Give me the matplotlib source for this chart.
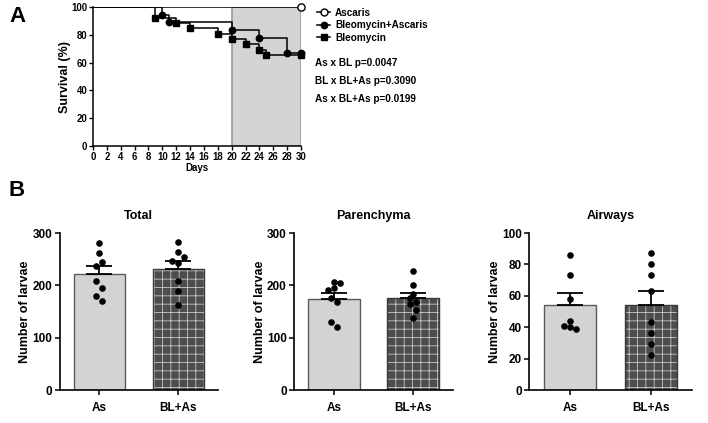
import matplotlib
matplotlib.use("Agg")
import matplotlib.pyplot as plt
import numpy as np

plt.rcParams['font.family'] = ['Liberation Sans', 'DejaVu Sans']
plt.rcParams['font.weight'] = 'bold'
plt.rcParams['axes.labelweight'] = 'bold'
plt.rcParams['axes.titleweight'] = 'bold'
plt.rcParams['hatch.linewidth'] = 0.6

# ---------------- Data ----------------
# Panel A: Kaplan-Meier survival
asc_days = [0, 30]
asc_surv = [100, 100]
bla_days = [0, 10, 11, 20, 24, 28, 30]
bla_surv = [100, 94.4, 88.9, 83.3, 77.8, 66.7, 66.7]
bl_days = [0, 9, 12, 14, 18, 20, 22, 24, 25, 30]
bl_surv = [100, 92.3, 88.5, 84.6, 80.8, 76.9, 73.1, 69.2, 65.4, 65.4]
pvalue_texts = ["As x BL p=0.0047", "BL x BL+As p=0.3090", "As x BL+As p=0.0199"]
legend_labels = ["Ascaris", "Bleomycin+Ascaris", "Bleomycin"]

# Panel B: number of larvae
groups = ["As", "BL+As"]
total_as = [280, 262, 245, 236, 208, 195, 180, 170]
total_blas = [283, 264, 255, 247, 243, 208, 190, 162]
paren_as = [207, 204, 194, 192, 176, 168, 129, 121]
paren_blas = [227, 201, 183, 176, 169, 164, 153, 138]
air_as = [86, 73, 58, 44, 41, 40, 39]
air_blas = [87, 80, 73, 63, 43, 36, 29, 22.5]
panel_titles = ["Total", "Parenchyma", "Airways"]

# ---------------- Figure ----------------
W, H = 708, 423
fig = plt.figure(figsize=(W / 100, H / 100), dpi=100)

def ax_px(l, t, r, b):
    return fig.add_axes([l / W, 1 - b / H, (r - l) / W, (b - t) / H])

# ---- Panel A ----
axA = ax_px(93, 7, 301, 146)
axA.axvspan(20, 30, ymin=0, ymax=1, facecolor='#d4d4d4', edgecolor='#9a9a9a', lw=1.2, zorder=0)
lw = 1.1
ms = 4.6
axA.step(asc_days, asc_surv, where='post', color='black', lw=lw, zorder=3)
axA.plot(asc_days[-1:], asc_surv[-1:], 'o', mfc='white', mec='black', ms=ms + 0.6, mew=1.0, zorder=5, clip_on=False)
axA.step(bla_days, bla_surv, where='post', color='black', lw=lw, zorder=3)
axA.plot(bla_days[1:], bla_surv[1:], 'o', color='black', ms=ms, zorder=4, clip_on=False)
axA.step(bl_days, bl_surv, where='post', color='black', lw=lw, zorder=3)
axA.plot(bl_days[1:], bl_surv[1:], 's', color='black', ms=ms, zorder=4, clip_on=False)
axA.set_xlim(0, 30)
axA.set_ylim(0, 100)
axA.set_xticks(np.arange(0, 31, 2))
axA.set_yticks(np.arange(0, 101, 20))
for s in ['top', 'right']:
    axA.spines[s].set_visible(False)
for s in ['left', 'bottom']:
    axA.spines[s].set_linewidth(1.1)
axA.tick_params(labelsize=6.9, width=1.0, length=3, pad=1.0)
axA.set_xlabel("Days", fontsize=7, labelpad=1)
axA.set_ylabel("Survival (%)", fontsize=9, labelpad=0)

from matplotlib.lines import Line2D
handles = [
    Line2D([], [], color='black', lw=lw, marker='o', mfc='white', mec='black', ms=ms + 0.4),
    Line2D([], [], color='black', lw=lw, marker='o', ms=ms),
    Line2D([], [], color='black', lw=lw, marker='s', ms=ms),
]
fig.legend(handles, legend_labels, loc='upper left', bbox_to_anchor=(310 / W, 1 - 1 / H),
           frameon=False, fontsize=7.2, handlelength=1.3, handletextpad=0.5,
           labelspacing=0.25, borderpad=0.2)
for i, t in enumerate(pvalue_texts):
    fig.text(315 / W, 1 - (63 + 18 * i) / H, t, fontsize=7.2, va='center', ha='left')

fig.text(18 / W, 1 - 16 / H, "A", fontsize=16, fontweight='bold', ha='center', va='center')
fig.text(17 / W, 1 - 190 / H, "B", fontsize=16, fontweight='bold', ha='center', va='center')

# ---- Panel B ----
panels = [
    (59.7, 218, (total_as, total_blas), 300, 100),
    (294.3, 452.7, (paren_as, paren_blas), 300, 100),
    (529.3, 691.7, (air_as, air_blas), 100, 20),
]
jitters = [
    ([0, 0, .038, -.038, -.038, .038, -.038, .038], [0, 0, .072, -.08, 0, 0, 0, 0]),
    ([0, .076, 0, -.076, -.038, .038, -.038, .038], [0, 0, 0, -.038, .038, -.038, .038, 0]),
    ([0, 0, 0, 0, -.076, 0, .076], [0, 0, 0, 0, 0, 0, 0, 0]),
]
for (l, r, data, ymax, ystep), title, jit in zip(panels, panel_titles, jitters):
    ax = ax_px(l, 233, r, 390)
    x = np.arange(len(groups))
    means = [np.mean(d) for d in data]
    sems = [np.std(d, ddof=1) / np.sqrt(len(d)) for d in data]
    # As bar
    ax.bar(x[0], means[0], width=0.65, color='#d3d3d3', edgecolor='#5a5a5a', lw=1.0, zorder=2)
    # BL+As bar (brick-like pattern)
    ax.bar(x[1], means[1], width=0.65, color='#4d4d4d', edgecolor='#c8c8c8', hatch='++', lw=0, zorder=2)
    ax.bar(x[1], means[1], width=0.65, fill=False, edgecolor='#3a3a3a', lw=1.0, zorder=2.1)
    ax.errorbar(x, means, yerr=[[0, 0], sems], fmt='none', ecolor='black', elinewidth=1.3,
                capsize=9.5, capthick=1.3, zorder=3)
    for xi, d, j in zip(x, data, jit):
        ax.scatter(xi + np.array(j[:len(d)]), d, s=14, color='black', zorder=4, clip_on=False)
    ax.set_xlim(-0.5, 1.5)
    ax.set_ylim(0, ymax)
    ax.set_yticks(np.arange(0, ymax + 1, ystep))
    ax.set_xticks(x)
    ax.set_xticklabels(groups)
    for s in ['top', 'right']:
        ax.spines[s].set_visible(False)
    for s in ['left', 'bottom']:
        ax.spines[s].set_linewidth(1.2)
    ax.tick_params(labelsize=8.5, width=1.1, length=3.5, pad=2)
    ax.tick_params(axis='x', pad=5)
    ax.set_ylabel("Number of larvae", fontsize=9, labelpad=0.5)
    ax.set_title(title, fontsize=9, pad=10)

fig.savefig("out.png", dpi=100)
